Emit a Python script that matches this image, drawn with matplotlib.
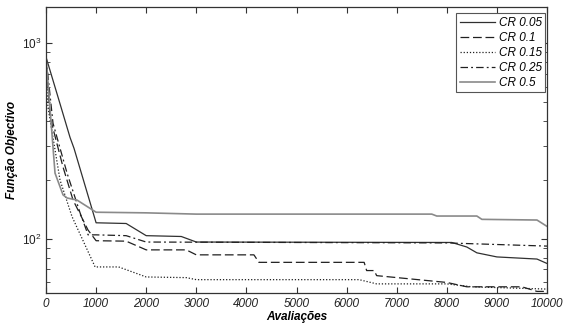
import numpy as np
import matplotlib.pyplot as plt
from matplotlib.ticker import LogLocator, NullFormatter, MultipleLocator

plt.rcParams['font.family'] = 'Liberation Sans'
plt.rcParams['mathtext.fontset'] = 'custom'
plt.rcParams['mathtext.rm'] = 'Liberation Sans:italic'
plt.rcParams['mathtext.it'] = 'Liberation Sans:italic'
plt.rcParams['mathtext.default'] = 'it'

# series (evaluations vs objective value)
cr005_x = [0, 250, 480, 560, 1000, 1600, 2000, 2700, 3000, 8100, 8400, 8600, 9000, 9800, 10000]
cr005_y = [850, 520, 330, 290, 121, 120, 104, 103, 96.5, 96, 91, 85, 81, 79, 75]

cr01_x = [0, 80, 340, 540, 840, 1000, 1600, 2000, 2800, 3000, 4150, 4250, 6350, 6400,
          6550, 6600, 8000, 8400, 9500, 9800, 10000]
cr01_y = [850, 420, 233, 158, 111, 98, 97.5, 88, 88, 83, 83, 76, 76, 69,
          69, 65, 60, 57, 57, 54, 54]

cr015_x = [0, 40, 280, 520, 980, 1450, 2000, 2800, 3000, 6250, 6600, 8000, 8500, 10000]
cr015_y = [700, 470, 200, 130, 72, 72, 64, 63.5, 62, 62, 59, 59, 57, 55.5]

cr025_x = [0, 140, 420, 680, 840, 1000, 1600, 2000, 8000, 10000]
cr025_y = [850, 390, 217, 136, 105, 105, 104, 96.5, 95.5, 92]

cr05_x = [0, 180, 340, 420, 620, 1000, 2000, 3000, 7700, 7800, 8600, 8700, 9800, 10000]
cr05_y = [850, 217, 168, 162, 158, 137, 136, 134, 134, 131, 131, 126, 125, 116]

fig = plt.figure(figsize=(5.63, 3.27), dpi=100)
ax = fig.add_axes([46/563, 1-293/327, 501/563, 286/327])

ax.plot(cr005_x, cr005_y, color='#303030', lw=0.9, label='CR 0.05')
ax.plot(cr01_x, cr01_y, color='#202020', lw=0.9, dashes=(7, 3), label='CR 0.1')
ax.plot(cr015_x, cr015_y, color='#202020', lw=0.9, linestyle=(0, (1, 1.5)), label='CR 0.15')
ax.plot(cr025_x, cr025_y, color='#202020', lw=0.9, linestyle=(0, (6, 2.5, 1.5, 2.5)), label='CR 0.25')
ax.plot(cr05_x, cr05_y, color='#8a8a8a', lw=1.2, label='CR 0.5')

ax.set_yscale('log')
ax.set_xlim(0, 10000)
ax.set_ylim(53, 1530)
ax.xaxis.set_major_locator(MultipleLocator(1000))
ax.yaxis.set_major_locator(LogLocator(base=10))
ax.yaxis.set_minor_locator(LogLocator(base=10, subs=np.arange(2, 10)))
ax.yaxis.set_minor_formatter(NullFormatter())
ax.tick_params(which='both', direction='in', top=True, right=True, labelsize=8.5,
               color='#333333', labelcolor='#202020')
ax.tick_params(which='major', length=4)
ax.tick_params(which='minor', length=3)
for lab in ax.get_xticklabels():
    lab.set_fontstyle('italic')
for s in ax.spines.values():
    s.set_color('#333333')
    s.set_linewidth(0.9)

ax.set_xlabel('Avaliações', fontsize=8.5, fontweight='bold', fontstyle='italic', labelpad=1)
ax.set_ylabel('Função Objectivo', fontsize=8.5, fontweight='bold', fontstyle='italic', labelpad=3)

leg = ax.legend(loc='upper right', bbox_to_anchor=(0.997, 0.978), fontsize=8.5,
                prop={'style': 'italic', 'size': 8.5}, handlelength=3.0,
                fancybox=False, framealpha=1, borderpad=0.3, labelspacing=0.25,
                handletextpad=0.3, borderaxespad=0)
leg.get_frame().set_edgecolor('#555555')
leg.get_frame().set_linewidth(0.8)

fig.savefig('out.png', dpi=100)
